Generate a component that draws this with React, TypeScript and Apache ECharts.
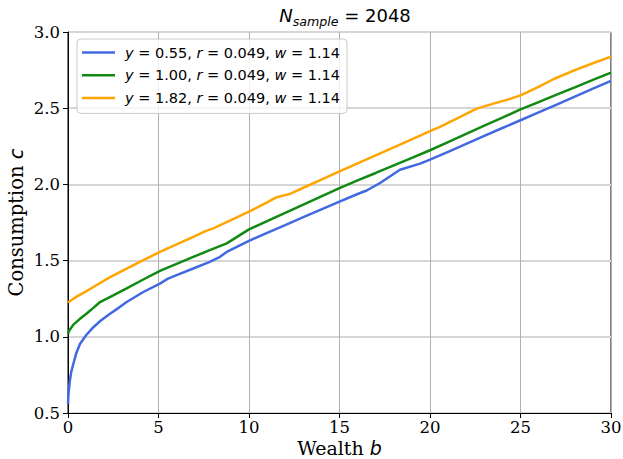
import React, { useEffect, useRef } from "react";
import * as echarts from "echarts";

const xTicks = [0, 5, 10, 15, 20, 25, 30];
const yTicks = [0.5, 1.0, 1.5, 2.0, 2.5, 3.0];

const seriesNames = [
  "y = 0.55, r = 0.049, w = 1.14",
  "y = 1.00, r = 0.049, w = 1.14",
  "y = 1.82, r = 0.049, w = 1.14",
];
const seriesColors = ["#4169e1", "#108a10", "#ffa500"];

const blueX = [0, 0.03, 0.1, 0.18, 0.29, 0.45, 0.66, 1.0, 1.4, 1.8, 2.32, 2.8, 3.24, 4.16, 5.08, 5.5, 6.0, 6.92, 7.8, 8.4, 8.77, 10, 11, 12, 13, 14, 15, 16, 16.5, 17.24, 18.34, 19.45, 20, 21, 22, 23, 24, 25, 26, 27, 28, 29, 30];
const blueY = [0.56, 0.63, 0.71, 0.77, 0.82, 0.89, 0.953, 1.01, 1.063, 1.105, 1.151, 1.19, 1.228, 1.294, 1.349, 1.38, 1.405, 1.448, 1.49, 1.525, 1.557, 1.63, 1.682, 1.733, 1.785, 1.836, 1.887, 1.937, 1.96, 2.009, 2.096, 2.136, 2.162, 2.214, 2.266, 2.318, 2.37, 2.421, 2.472, 2.524, 2.576, 2.628, 2.679];

const greenX = [0, 0.07, 0.3, 0.66, 1.0, 1.4, 1.77, 2.5, 3.24, 4.16, 5.08, 6.0, 6.92, 7.8, 8.77, 10, 11, 12, 13, 14, 15, 16, 17, 18, 19, 20, 21, 22, 23, 24, 25, 26, 27, 28, 29, 30];
const greenY = [1.02, 1.041, 1.08, 1.118, 1.15, 1.19, 1.228, 1.272, 1.318, 1.376, 1.432, 1.478, 1.524, 1.567, 1.613, 1.705, 1.759, 1.813, 1.867, 1.922, 1.976, 2.026, 2.075, 2.125, 2.174, 2.224, 2.278, 2.331, 2.385, 2.438, 2.492, 2.54, 2.589, 2.637, 2.686, 2.734];

const orangeX = [0, 0.07, 0.5, 1.0, 1.4, 2.3, 3.24, 4.16, 5.08, 6.0, 6.92, 7.66, 8.0, 9.5, 10, 11, 11.53, 12.27, 13, 14, 15, 16, 17, 18, 19.45, 20, 20.55, 21.5, 22.58, 23.5, 24.3, 25, 26, 26.81, 28, 29, 30];
const orangeY = [1.225, 1.232, 1.265, 1.298, 1.327, 1.39, 1.448, 1.503, 1.557, 1.607, 1.656, 1.697, 1.71, 1.793, 1.821, 1.882, 1.916, 1.938, 1.978, 2.031, 2.085, 2.138, 2.19, 2.243, 2.32, 2.349, 2.378, 2.434, 2.497, 2.53, 2.556, 2.584, 2.64, 2.69, 2.75, 2.795, 2.838];

const seriesX = [blueX, greenX, orangeX];
const seriesY = [blueY, greenY, orangeY];

function legendFormatter(name: string) {
  const m = name.match(/^y = ([\d.]+), r = ([\d.]+), w = ([\d.]+)$/);
  if (!m) return name;
  return `{f|y}{n| = ${m[1]}, }{i|r}{n| = ${m[2]}, }{i|w}{n| = ${m[3]}}`;
}

export default function App() {
  const ref = useRef<HTMLDivElement>(null);
  useEffect(() => {
    if (!ref.current) return;
    const chart = echarts.init(ref.current, undefined, { renderer: "svg" });
    const serif = "DejaVu Serif";
    const sans = "DejaVu Sans";
    chart.setOption({
      animation: false,
      backgroundColor: "#ffffff",
      title: {
        text: "{n|N}{s|sample}{t| = 2048}",
        left: 340,
        top: -3,
        textAlign: "center",
        textStyle: {
          fontWeight: "normal",
          rich: {
            n: { fontFamily: sans, fontStyle: "italic", fontWeight: "normal", fontSize: 18, color: "#000", lineHeight: 26, verticalAlign: "middle" },
            s: { fontFamily: sans, fontStyle: "italic", fontWeight: "normal", fontSize: 12.6, color: "#000", lineHeight: 12, verticalAlign: "bottom" },
            t: { fontFamily: sans, fontWeight: "normal", fontSize: 18, color: "#000", lineHeight: 26, verticalAlign: "middle" },
          },
        },
      },
      legend: {
        orient: "vertical",
        left: 77,
        top: 39,
        icon: "rect",
        itemWidth: 33,
        itemHeight: 2.5,
        itemGap: 5.7,
        padding: [5, 7, 7, 5],
        borderColor: "#cccccc",
        borderWidth: 1,
        borderRadius: 4,
        backgroundColor: "rgba(255,255,255,0.8)",
        data: seriesNames,
        formatter: legendFormatter,
        textStyle: {
          lineHeight: 17,
          rich: {
            f: { fontFamily: sans, fontStyle: "italic", fontSize: 14.5, color: "#000", padding: [0, 0, 0, 5] },
            i: { fontFamily: sans, fontStyle: "italic", fontSize: 14.5, color: "#000" },
            n: { fontFamily: sans, fontSize: 14.5, color: "#000" },
          },
        },
      },
      grid: {
        left: 68,
        right: 12,
        top: 32,
        bottom: 46,
        containLabel: false,
        outerBoundsMode: "none",
        show: true,
        borderColor: "#000",
        borderWidth: 1,
        backgroundColor: "transparent",
      },
      xAxis: {
        type: "value",
        min: xTicks[0],
        max: xTicks[xTicks.length - 1],
        interval: 5,
        name: "{a|Wealth }{b|b}",
        nameLocation: "middle",
        nameMoveOverlap: false,
        nameGap: 25,
        nameTextStyle: {
          lineHeight: 20,
          rich: {
            a: { fontFamily: serif, fontSize: 19, lineHeight: 20, color: "#000" },
            b: { fontFamily: sans, fontStyle: "italic", fontSize: 19, lineHeight: 20, color: "#000" },
          },
        },
        axisLine: { show: true, lineStyle: { color: "#000", width: 1 } },
        axisTick: { show: true, inside: false, length: 5, lineStyle: { color: "#000" } },
        axisLabel: { fontFamily: serif, fontSize: 16.5, color: "#000", margin: 6, formatter: (v: number) => String(v) },
        splitLine: { show: true, lineStyle: { color: "#b0b0b0", width: 1 } },
      },
      yAxis: {
        type: "value",
        min: yTicks[0],
        max: yTicks[yTicks.length - 1],
        interval: 0.5,
        name: "{a|Consumption }{b|c}",
        nameLocation: "middle",
        nameMoveOverlap: false,
        nameGap: 42,
        nameTextStyle: {
          rich: {
            a: { fontFamily: serif, fontSize: 19.5, color: "#000" },
            b: { fontFamily: sans, fontStyle: "italic", fontSize: 19.5, color: "#000" },
          },
        },
        axisLine: { show: true, lineStyle: { color: "#000", width: 1 } },
        axisTick: { show: true, inside: false, length: 5, lineStyle: { color: "#000" } },
        axisLabel: { fontFamily: serif, fontSize: 16.5, color: "#000", margin: 8, formatter: (v: number) => v.toFixed(1) },
        splitLine: { show: true, lineStyle: { color: "#d6d6d6", width: 2 } },
      },
      series: seriesNames.map((name, k) => ({
        name,
        type: "line",
        showSymbol: false,
        symbol: "none",
        smooth: false,
        color: seriesColors[k],
        lineStyle: { color: seriesColors[k], width: 2.5 },
        data: seriesX[k].map((x, i) => [x, seriesY[k][i]]),
      })),
    });
    return () => chart.dispose();
  }, []);
  return <div ref={ref} style={{ position: "absolute", left: 0, top: 0, width: 623, height: 459 }} />;
}
